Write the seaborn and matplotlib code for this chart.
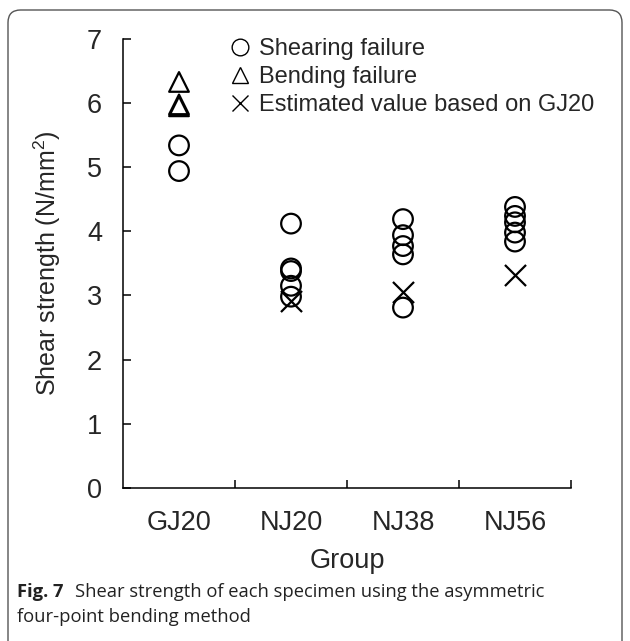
import numpy as np
import pandas as pd
import matplotlib
matplotlib.use("Agg")
import matplotlib.pyplot as plt
import seaborn as sns
from matplotlib.lines import Line2D
from matplotlib.patches import FancyBboxPatch

# ---------------- data ----------------
groups = ["GJ20", "NJ20", "NJ38", "NJ56"]
shear_groups = ["GJ20", "GJ20",
                "NJ20", "NJ20", "NJ20", "NJ20", "NJ20",
                "NJ38", "NJ38", "NJ38", "NJ38", "NJ38",
                "NJ56", "NJ56", "NJ56", "NJ56", "NJ56"]
shear_values = [5.34, 4.94,
                4.12, 3.42, 3.38, 3.15, 2.98,
                4.19, 3.94, 3.77, 3.64, 2.81,
                4.38, 4.24, 4.14, 3.98, 3.84]
bend_groups = ["GJ20", "GJ20", "GJ20"]
bend_values = [6.33, 5.98, 5.95]
est_groups = ["NJ20", "NJ38", "NJ56"]
est_values = [2.91, 3.06, 3.32]
legend_labels = ["Shearing failure", "Bending failure",
                 "Estimated value based on GJ20"]
y_ticks = [0, 1, 2, 3, 4, 5, 6, 7]

shear_df = pd.DataFrame({"group": pd.Categorical(shear_groups, categories=groups),
                         "value": shear_values})
bend_df = pd.DataFrame({"group": pd.Categorical(bend_groups, categories=groups),
                        "value": bend_values})
est_df = pd.DataFrame({"group": pd.Categorical(est_groups, categories=groups),
                       "value": est_values})
for d in (shear_df, bend_df, est_df):
    d["pos"] = d["group"].cat.codes

# ---------------- style ----------------
sns.set_theme(style="white")
plt.rcParams["font.family"] = ["Liberation Sans", "DejaVu Sans"]
plt.rcParams["mathtext.default"] = "regular"

W, H = 630, 641
fig = plt.figure(figsize=(W / 100, H / 100), dpi=100)
ax = fig.add_axes([123 / W, (H - 487.7) / H, 448 / W, (487.7 - 39) / H])

sns.scatterplot(data=shear_df, x="pos", y="value", ax=ax, marker="o", s=200,
                facecolor="none", edgecolor="black", linewidth=1.6, legend=False)
sns.scatterplot(data=bend_df, x="pos", y="value", ax=ax, marker="^", s=200,
                facecolor="none", edgecolor="black", linewidth=1.6, legend=False)
sns.scatterplot(data=est_df, x="pos", y="value", ax=ax, marker="x", s=230,
                color="black", linewidth=1.6, legend=False)

ax.set_xlim(-0.5, 3.5)
ax.set_ylim(0, 7)
ax.set_yticks(y_ticks)
ax.set_yticklabels([str(t) for t in y_ticks])
ax.set_xticks(range(len(groups)))
ax.set_xticklabels(groups)
ax.set_xticks(np.arange(len(groups)) + 0.5, minor=True)

for s in ("top", "right"):
    ax.spines[s].set_visible(False)
for s in ("left", "bottom"):
    ax.spines[s].set_color("black")
    ax.spines[s].set_linewidth(1.1)

ax.tick_params(axis="y", direction="in", length=6, width=1.1, color="black",
               labelsize=19.5, pad=15, left=True)
ax.tick_params(axis="x", which="major", length=0, labelsize=19.5, pad=16)
ax.tick_params(axis="x", which="minor", direction="in", length=6, width=1.1,
               color="black", bottom=True)

ax.set_xlabel("Group", fontsize=19.5, labelpad=9)
ax.set_ylabel("Shear strength (N/mm$^2$)", fontsize=18, labelpad=17)

handles = [
    Line2D([], [], ls="none", marker="o", mfc="none", mec="black", ms=12, mew=1.0),
    Line2D([], [], ls="none", marker="^", mfc="none", mec="black", ms=12, mew=1.0),
    Line2D([], [], ls="none", marker="x", mfc="none", mec="black", ms=11, mew=1.0),
]
ax.legend(handles, legend_labels, loc="upper left", bbox_to_anchor=(0.235, 1.002),
          frameon=False, fontsize=17, handlelength=1.0, handletextpad=0.3,
          labelspacing=0.25, borderpad=0, borderaxespad=0)

# ---------------- frame & caption ----------------
frame = FancyBboxPatch((8 / W, -0.05), (622 - 8) / W, 1 - 10 / H + 0.05,
                       boxstyle="round,pad=0,rounding_size=0.02",
                       mutation_aspect=W / H, transform=fig.transFigure,
                       fill=False, edgecolor="#555555", linewidth=1.0,
                       clip_on=False)
fig.patches.append(frame)

cap_font = ["Open Sans", "DejaVu Sans"]
fig.text(17 / W, 1 - 592 / H, "Fig. 7", fontsize=13.2, fontweight="bold",
         family=cap_font, va="center", ha="left", color="#222222")
fig.text(75 / W, 1 - 592 / H,
         "Shear strength of each specimen using the asymmetric",
         fontsize=13.2, family=cap_font, va="center", ha="left", color="#222222")
fig.text(17 / W, 1 - 617 / H, "four-point bending method",
         fontsize=13.2, family=cap_font, va="center", ha="left", color="#222222")

fig.savefig("out.png", dpi=100, facecolor="white")
